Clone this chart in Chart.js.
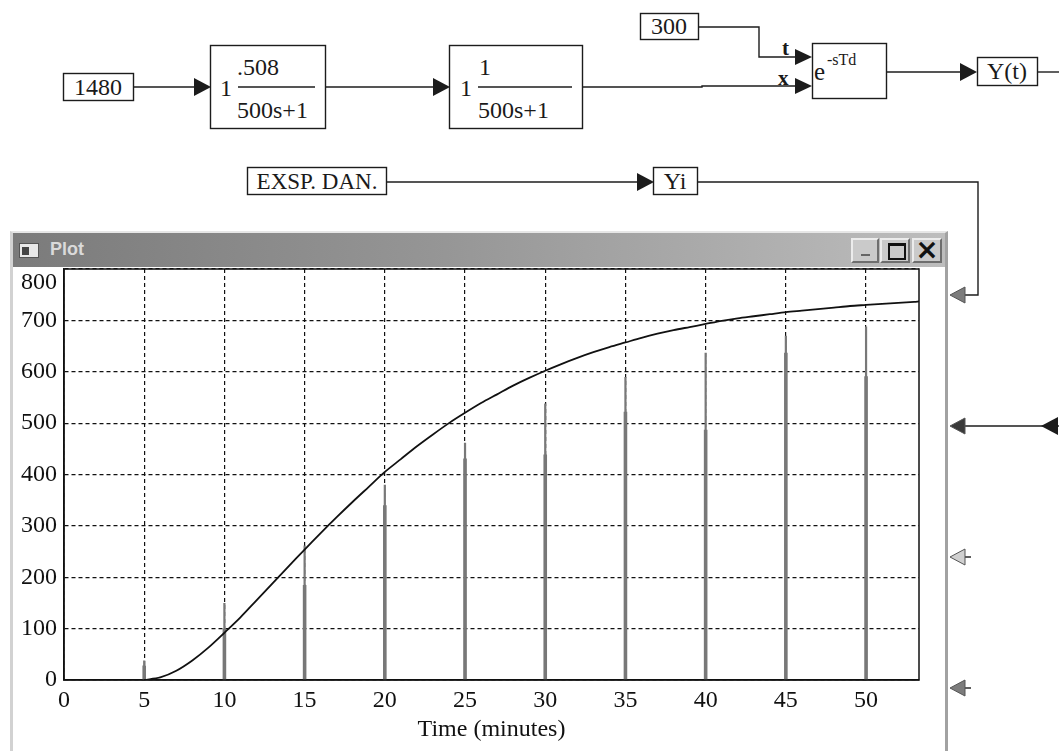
<!DOCTYPE html>
<html>
<head>
<meta charset="utf-8">
<script src="https://cdn.jsdelivr.net/npm/chart.js@4.4.0/dist/chart.umd.min.js"></script>
<style>
  body { margin: 0; width: 1059px; height: 751px; overflow: hidden; background: #fff; position: relative; }
  #diagram { position: absolute; left: 0; top: 0; }
  #diagram text { font-family: "Liberation Serif", serif; fill: #1a1a1a; }
  #win { position: absolute; left: 10px; top: 231px; width: 938px; height: 522px; box-sizing: border-box;
         background: #fff; border-left: 3px solid #d2d2d2; border-top: 2px solid #e6e6e6; border-right: 3px solid #a2a2a2; }
  #titlebar { position: absolute; left: 0; top: 0; width: 932px; height: 34px;
              background: linear-gradient(to right, #7b7b7b, #959595 45%, #bdbdbd); }
  #icon { position: absolute; left: 6px; top: 10px; width: 20px; height: 15px; background: #e8e8e8; border: 1px solid #555; box-sizing: border-box; }
  #icon::before { content: ""; position: absolute; left: 2px; top: 3px; width: 7px; height: 8px; background: #444; }
  #wtitle { position: absolute; left: 37px; top: 6px; font: bold 18px "Liberation Sans", sans-serif; color: #dadada; }
  .btn { position: absolute; top: 5px; height: 25px; box-sizing: border-box; background: #cacaca;
         border-top: 2px solid #ececec; border-left: 2px solid #ececec; border-right: 2px solid #6e6e6e; border-bottom: 2px solid #6e6e6e;
         font: bold 28px "DejaVu Sans", sans-serif; color: #111; text-align: center; line-height: 20px; }
  #bmin { left: 838px; width: 28px; }
  #bmin::after { content: ""; position: absolute; left: 8px; top: 14px; width: 9px; height: 2px; background: #666; }
  #bmax { left: 867px; width: 30px; }
  #bmax::after { content: ""; position: absolute; left: 6px; top: 3px; width: 14px; height: 12px; border: 2px solid #111; border-top-width: 3px; }
  #bclose { left: 899px; width: 30px; }
  #plotbox { position: absolute; left: 12px; top: 267px; width: 934px; height: 482px; }
</style>
</head>
<body>
<svg id="diagram" width="1059" height="751" viewBox="0 0 1059 751">
  <g fill="none" stroke="#1c1c1c" stroke-width="1.4">
    <rect x="63.5" y="73.5" width="70" height="27"/>
    <line x1="134" y1="87" x2="196" y2="87"/>
    <rect x="210.5" y="45.5" width="115" height="83"/>
    <line x1="238" y1="87" x2="315" y2="87"/>
    <line x1="326" y1="87" x2="436" y2="87"/>
    <rect x="449.5" y="45.5" width="133" height="83"/>
    <line x1="478" y1="87" x2="572" y2="87"/>
    <polyline points="583,87 702,87 702,86 798,86"/>
    <rect x="640.5" y="13.5" width="58" height="26"/>
    <polyline points="699,27 759,27 759,57 798,57"/>
    <rect x="812.5" y="43.5" width="74" height="55"/>
    <line x1="887" y1="72" x2="962" y2="72"/>
    <rect x="977.5" y="57.5" width="60" height="28"/>
    <line x1="1038" y1="72" x2="1059" y2="72"/>
    <rect x="247.5" y="167.5" width="139" height="27"/>
    <line x1="387" y1="182" x2="640" y2="182"/>
    <rect x="653.5" y="167.5" width="44" height="27"/>
    <polyline points="698,182 978,182 978,295 964,295"/>
    <line x1="964" y1="426" x2="1043" y2="426"/>
    <line x1="1056" y1="426" x2="1059" y2="426"/>
    <line x1="964" y1="557" x2="971" y2="557"/>
    <line x1="964" y1="688" x2="971" y2="688"/>
  </g>
  <g fill="#1c1c1c" stroke="none">
    <polygon points="194,78 211,87 194,96"/>
    <polygon points="433,78 450,87 433,96"/>
    <polygon points="795,49 812,57 795,65"/>
    <polygon points="795,78 812,86 795,94"/>
    <polygon points="960,63 977,72 960,81"/>
    <polygon points="637,173 654,182 637,191"/>
    <polygon points="1058,417 1041,426 1058,435"/>
  </g>
  <g stroke-width="1" stroke="#555">
    <polygon points="965,287 950,295 965,303" fill="#7c7c7c"/>
    <polygon points="965,418 950,426 965,434" fill="#3a3a3a"/>
    <polygon points="965,549 950,557 965,565" fill="#d0d0d0"/>
    <polygon points="965,680 950,688 965,696" fill="#7c7c7c"/>
  </g>
  <text x="98" y="87" font-size="24" text-anchor="middle" dominant-baseline="central">1480</text>
  <text x="226" y="88" font-size="24" text-anchor="middle" dominant-baseline="central">1</text>
  <text x="237" y="75" font-size="24">.508</text>
  <text x="237" y="118" font-size="24">500s+1</text>
  <text x="466" y="88" font-size="24" text-anchor="middle" dominant-baseline="central">1</text>
  <text x="479" y="75" font-size="24">1</text>
  <text x="478" y="118" font-size="24">500s+1</text>
  <text x="669" y="26" font-size="24" text-anchor="middle" dominant-baseline="central">300</text>
  <text x="782" y="55" font-size="21" font-weight="bold">t</text>
  <text x="778" y="85" font-size="21" font-weight="bold">x</text>
  <text x="814" y="80" font-size="25">e</text>
  <text x="827" y="65" font-size="16">-sTd</text>
  <text x="1007" y="71" font-size="24" text-anchor="middle" dominant-baseline="central">Y(t)</text>
  <text x="317" y="181" font-size="23" text-anchor="middle" dominant-baseline="central">EXSP. DAN.</text>
  <text x="675" y="181" font-size="24" text-anchor="middle" dominant-baseline="central">Yi</text>
</svg>

<div id="win">
  <div id="titlebar">
    <div id="icon"></div>
    <div id="wtitle">Plot</div>
    <div class="btn" id="bmin"></div>
    <div class="btn" id="bmax"></div>
    <div class="btn" id="bclose">×</div>
  </div>
</div>
<div id="plotbox"><canvas id="plot" width="934" height="482"></canvas></div>

<script>
// Y(t) model output, minutes
const curveTime = [5, 6, 7, 8, 9, 10, 11, 12, 13, 14, 15, 16, 17, 18, 19, 20, 21, 22, 23, 24,
  25, 26, 27, 28, 29, 30, 31, 32, 33, 34, 35, 36, 37, 38, 39, 40, 41, 42, 43, 44,
  45, 46, 47, 48, 49, 50, 51, 52, 53, 53.3];
const curveValue = [0, 5, 18, 38, 63, 92, 122, 155, 188, 221, 254, 286, 317, 347, 376, 405, 430, 455, 478, 500,
  520, 539, 556, 573, 588, 602, 615, 627, 638, 648, 657, 666, 674, 681, 687, 693, 699, 704, 708, 712,
  716, 719, 722, 725, 728, 730, 732, 734, 736, 737];

// Yi experimental samples
const sampleTime = [5, 10, 15, 20, 25, 30, 35, 40, 45, 50];
const yiPeak = [38, 150, 262, 380, 462, 538, 590, 637, 670, 688];
const yiLevel = [28, 100, 185, 340, 431, 439, 522, 487, 637, 591];

const xTicks = [0, 5, 10, 15, 20, 25, 30, 35, 40, 45, 50];
const yTicks = [0, 100, 200, 300, 400, 500, 600, 700, 800];

const curve = curveTime.map((t, i) => ({ x: t, y: curveValue[i] }));

function spikes(values) {
  const pts = [];
  sampleTime.forEach((t, i) => {
    pts.push({ x: t, y: 0 }, { x: t, y: values[i] }, { x: t, y: null });
  });
  return pts;
}

const frame = {
  id: 'frame',
  afterDraw(chart) {
    const a = chart.chartArea, ctx = chart.ctx;
    ctx.save();
    ctx.strokeStyle = '#111';
    ctx.lineWidth = 1.5;
    ctx.strokeRect(a.left, a.top, a.right - a.left, a.bottom - a.top);
    ctx.restore();
  }
};

const serif = 'Liberation Serif';

new Chart(document.getElementById('plot'), {
  type: 'line',
  data: {
    datasets: [
      { label: 'Y(t)', data: curve, borderColor: '#111', borderWidth: 1.8, pointRadius: 0, tension: 0.3 },
      { label: 'Yi', data: spikes(yiPeak), borderColor: '#787878', borderWidth: 2.2, pointRadius: 0, spanGaps: false },
      { label: 'Yi level', data: spikes(yiLevel), borderColor: '#787878', borderWidth: 3.6, pointRadius: 0, spanGaps: false }
    ]
  },
  options: {
    responsive: false,
    animation: false,
    events: [],
    layout: { padding: { top: 2, right: 27, left: 0, bottom: 0 } },
    plugins: { legend: { display: false }, tooltip: { enabled: false } },
    scales: {
      x: {
        type: 'linear',
        min: 0,
        max: 53.3,
        afterBuildTicks: s => { s.ticks = xTicks.map(v => ({ value: v })); },
        ticks: { color: '#111', padding: 6, autoSkip: false, font: { family: serif, size: 24 }, maxRotation: 0 },
        grid: { color: '#111', lineWidth: 1.2, drawTicks: false },
        border: { display: true, color: '#111', width: 1.5, dash: [4, 3] },
        title: { display: true, text: 'Time (minutes)', color: '#111', font: { family: serif, size: 24 }, padding: { top: 0, bottom: 5 } },
        afterFit: s => { s.height = 69; s.paddingLeft = 0; s.paddingRight = 0; }
      },
      y: {
        min: 0,
        max: 800,
        afterBuildTicks: s => { s.ticks = yTicks.map(v => ({ value: v })); },
        ticks: {
          color: '#111', padding: 7, autoSkip: false,
          font: { family: serif, size: 24, lineHeight: 1.17 },
          callback: v => v === 800 ? ['', String(v)] : String(v)
        },
        grid: { color: '#111', lineWidth: 1.2, drawTicks: false },
        border: { display: true, color: '#111', width: 1.5, dash: [4, 3] },
        afterFit: s => { s.width = 52; s.paddingTop = 0; s.paddingBottom = 0; }
      }
    }
  },
  plugins: [frame]
});
</script>
</body>
</html>
